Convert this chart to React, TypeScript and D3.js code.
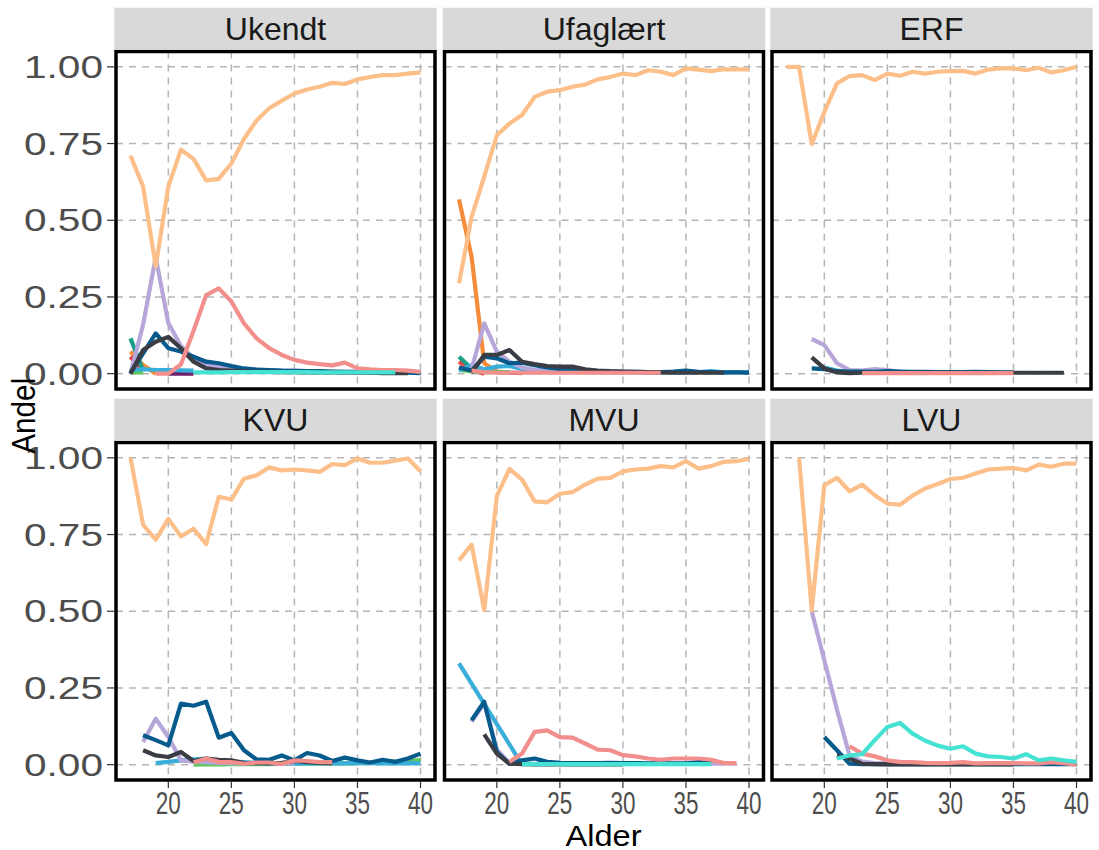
import React from "react";
import * as d3 from "d3";

const AGES = [17,18,19,20,21,22,23,24,25,26,27,28,29,30,31,32,33,34,35,36,37,38,39,40];
const PANELS = ["Ukendt", "Ufaglært", "ERF", "KVU", "MVU", "LVU"];
const Y_TICKS = [0, 0.25, 0.5, 0.75, 1];
const Y_TICK_LABELS = ["0.00", "0.25", "0.50", "0.75", "1.00"];
const X_TICKS = [20, 25, 30, 35, 40];
const n = null;

// --- Ukendt ---
const ukendt_peach = [0.71,0.61,0.35,0.61,0.73,0.70,0.63,0.635,0.685,0.765,0.825,0.865,0.89,0.913,0.926,0.935,0.948,0.944,0.959,0.967,0.973,0.973,0.978,0.982];
const ukendt_lavender = [0.0,0.16,0.38,0.165,0.09,0.05,0.03,0.022,0.018,0.015,0.013,0.011,0.01,0.009,0.008,0.007,0.006,0.006,0.005,0.005,0.004,0.004,0.004,0.003];
const ukendt_pink = [n,n,0.0,0.0,0.03,0.14,0.256,0.278,0.235,0.164,0.115,0.083,0.061,0.045,0.036,0.031,0.027,0.036,0.017,0.014,0.012,0.012,0.01,0.006];
const ukendt_darkblue = [0.003,0.066,0.131,0.083,0.072,0.055,0.039,0.034,0.025,0.017,0.013,0.012,0.01,0.009,0.008,0.008,0.007,0.006,0.006,0.005,0.004,0.004,0.003,0.002];
const ukendt_darkgray = [0.0,0.077,0.104,0.12,0.083,0.039,0.017,0.012,0.01,0.008,0.006,0.006,0.005,0.005,0.004,0.004,0.004,0.003,0.003,0.003,0.002,0.002,0.002,n];
const ukendt_teal = [0.115,0.01,n,n,n,n,n,n,n,n,n,n,n,n,n,n,n,n,n,n,n,n,n,n];
const ukendt_darkorange = [0.072,0.028,0.0,n,n,n,n,n,n,n,n,n,n,n,n,n,n,n,n,n,n,n,n,n];
const ukendt_red = [0.055,0.01,n,n,n,n,n,n,n,n,n,n,n,n,n,n,n,n,n,n,n,n,n,n];
const ukendt_lightblue = [0.012,0.015,0.012,0.012,0.011,0.01,n,n,n,n,n,n,n,n,n,n,n,n,n,n,n,n,n,n];
const ukendt_turquoise = [n,n,n,n,n,0.004,0.004,0.004,0.005,0.005,0.005,0.005,0.005,0.005,0.005,0.004,0.004,0.004,0.004,0.004,0.004,0.004,n,n];
const ukendt_purple = [n,n,n,0.0,0.0,0.0,n,n,n,n,n,n,n,n,n,n,n,n,n,n,n,n,n,n];
const ukendt_green = [0.004,0.004,n,n,n,n,n,n,n,n,n,n,n,n,n,n,n,n,n,n,n,n,n,n];

// --- Ufaglært ---
const ufag_peach = [0.294,0.511,0.642,0.777,0.815,0.843,0.902,0.919,0.924,0.935,0.942,0.959,0.967,0.978,0.973,0.989,0.984,0.973,0.995,0.991,0.986,0.992,0.992,0.992];
const ufag_darkorange = [0.568,0.381,0.034,0.007,0.003,0.002,n,n,n,n,n,n,n,n,n,n,n,n,n,n,n,n,n,n];
const ufag_lavender = [n,0.015,0.164,0.072,0.039,0.02,0.012,0.01,0.008,0.007,0.006,0.005,0.005,0.004,0.004,0.004,n,n,n,n,n,n,n,n];
const ufag_darkgray = [n,0.003,0.061,0.061,0.077,0.039,0.031,0.025,0.023,0.023,0.014,0.01,0.008,0.007,0.006,0.005,0.004,0.003,0.003,0.003,0.003,0.003,n,n];
const ufag_darkblue = [0.02,0.01,0.055,0.05,0.034,0.036,0.028,0.02,0.015,0.012,0.01,0.008,0.007,0.006,0.006,0.005,0.005,0.007,0.01,0.006,0.005,0.004,0.004,0.003];
const ufag_teal = [0.055,0.017,0.005,n,n,n,n,n,n,n,n,n,n,n,n,n,n,n,n,n,n,n,n,n];
const ufag_red = [0.039,0.012,0.0,n,n,n,n,n,n,n,n,n,n,n,n,n,n,n,n,n,n,n,n,n];
const ufag_green = [0.012,0.008,0.006,0.005,0.005,n,n,n,n,n,n,n,n,n,n,n,n,n,n,n,n,n,n,n];
const ufag_lightblue = [0.01,0.028,0.014,0.023,0.025,0.015,0.012,0.01,0.008,0.007,0.007,0.006,0.005,0.005,0.005,0.005,0.005,0.004,0.005,0.005,0.008,0.004,0.005,0.005];
const ufag_pink = [n,0.01,0.005,0.003,0.003,0.003,0.003,0.003,0.003,0.003,0.003,0.003,0.003,0.003,0.003,0.003,0.003,n,n,n,n,n,n,n];
const ufag_purple = [n,n,n,n,0.003,0.003,n,n,n,n,n,n,n,n,n,n,n,n,n,n,n,n,n,n];

// --- ERF ---
const erf_peach = [1.0,1.0,0.748,0.853,0.946,0.97,0.973,0.957,0.978,0.971,0.984,0.978,0.984,0.986,0.987,0.978,0.991,0.995,0.995,0.989,0.997,0.982,0.989,1.0];
const erf_lavender = [n,n,0.113,0.093,0.034,0.012,0.01,0.015,0.012,0.006,0.005,0.004,0.004,0.004,0.003,0.003,n,n,n,n,n,n,n,n];
const erf_darkgray = [n,n,0.053,0.017,0.004,0.002,0.003,0.003,0.003,0.003,0.003,0.003,0.003,0.003,0.003,0.003,0.003,0.003,0.003,0.003,0.003,0.003,0.003,n];
const erf_darkblue = [n,n,0.017,0.015,0.008,0.007,0.007,0.006,0.008,0.007,0.006,0.006,0.005,0.005,0.005,0.006,0.005,0.004,0.004,n,n,n,n,n];
const erf_lightblue = [n,n,n,0.02,0.01,0.006,0.005,0.004,n,n,n,n,n,n,n,n,n,n,n,n,n,n,n,n];
const erf_pink = [n,n,n,n,n,n,0.002,0.002,0.002,0.002,0.002,0.002,0.002,0.002,0.002,0.002,0.002,0.002,0.002,n,n,n,n,n];

// --- KVU ---
const kvu_peach = [1.0,0.782,0.733,0.801,0.744,0.769,0.719,0.873,0.864,0.932,0.943,0.969,0.959,0.962,0.959,0.954,0.98,0.976,0.998,0.984,0.984,0.991,0.998,0.956];
const kvu_darkblue = [n,0.096,0.08,0.063,0.199,0.192,0.205,0.088,0.103,0.047,0.017,0.016,0.03,0.014,0.038,0.03,0.012,0.023,0.014,0.007,0.016,0.009,0.02,0.036];
const kvu_lavender = [n,0.074,0.15,0.09,0.014,0.01,0.008,0.006,0.005,0.005,0.006,0.004,0.004,0.004,n,n,n,n,n,n,n,n,n,n];
const kvu_darkgray = [n,0.047,0.03,0.025,0.041,0.012,0.02,0.016,0.014,0.005,0.005,0.004,0.006,0.012,0.008,0.006,0.005,n,n,n,n,n,n,n];
const kvu_lightblue = [n,n,0.005,0.009,0.014,0.017,0.02,0.012,0.01,0.008,0.006,0.005,0.004,0.003,0.004,0.004,0.004,0.004,0.005,0.005,0.004,0.004,0.004,0.005];
const kvu_pink = [n,n,n,n,n,0.007,0.02,0.009,0.008,0.003,0.007,0.007,0.002,0.014,0.012,0.008,0.008,n,n,n,n,n,n,n];
const kvu_green = [n,n,n,n,n,0.0,0.001,0.001,0.002,0.002,0.002,0.002,0.003,0.003,0.003,0.003,0.004,0.004,0.005,0.006,0.008,0.01,0.012,0.015];

// --- MVU ---
const mvu_peach = [0.666,0.717,0.504,0.875,0.964,0.929,0.858,0.855,0.883,0.888,0.913,0.932,0.935,0.956,0.962,0.965,0.973,0.969,0.989,0.965,0.973,0.987,0.989,0.997];
const mvu_lightblue = [0.33,n,n,n,n,0.0,n,n,n,n,n,n,n,n,n,n,n,n,n,n,n,n,n,n];
const mvu_darkblue = [n,0.145,0.205,0.041,0.003,0.014,0.02,0.009,0.006,0.005,0.005,0.005,0.006,0.005,0.005,0.004,0.004,0.004,0.004,0.008,0.008,n,n,n];
const mvu_darkgray = [n,n,0.099,0.036,0.003,0.002,0.001,0.001,0.001,0.001,0.001,0.001,0.001,0.001,n,n,n,n,n,n,n,n,n,n];
const mvu_lavender = [n,0.14,0.2,0.05,0.005,0.003,0.003,0.003,0.003,0.003,0.003,0.003,0.003,0.003,0.003,0.003,0.003,0.003,0.003,0.003,0.003,0.004,0.004,n];
const mvu_pink = [n,n,n,n,0.009,0.036,0.107,0.112,0.09,0.088,0.069,0.049,0.047,0.031,0.027,0.02,0.016,0.02,0.02,0.02,0.016,0.005,0.005,n];
const mvu_turquoise = [n,n,n,n,n,0.002,0.002,0.002,0.002,0.002,0.002,0.002,0.002,0.002,0.002,0.002,0.002,0.002,0.002,0.002,0.002,n,n,n];

// --- LVU ---
const lvu_peach = [n,1.0,0.503,0.911,0.935,0.891,0.913,0.878,0.851,0.847,0.877,0.9,0.915,0.931,0.935,0.949,0.962,0.965,0.967,0.959,0.978,0.971,0.981,0.981];
const lvu_lavender = [n,n,0.5,0.34,0.18,0.03,0.01,0.005,0.004,0.003,0.003,n,n,n,n,n,n,n,n,n,n,n,n,n];
const lvu_darkblue = [n,n,n,0.09,0.047,0.003,0.002,0.002,0.002,0.002,0.002,0.002,0.002,0.002,0.002,0.002,0.002,0.002,0.002,0.002,0.002,0.002,0.002,0.002];
const lvu_darkgray = [n,n,n,n,0.03,0.02,0.003,0.002,0.001,0.001,0.001,0.001,0.001,0.001,0.001,0.001,0.001,0.001,0.001,n,n,n,n,n];
const lvu_turquoise = [n,n,n,n,0.02,0.03,0.034,0.08,0.123,0.136,0.101,0.078,0.062,0.052,0.06,0.036,0.027,0.025,0.02,0.034,0.014,0.02,0.014,0.009];
const lvu_pink = [n,n,n,n,n,0.06,0.036,0.027,0.014,0.009,0.008,0.006,0.005,0.006,0.008,0.004,0.005,0.005,0.005,0.004,0.004,0.008,0.005,0.0];

const COLORS: Record<string, string> = {
  peach: "#FDBF8A",
  lavender: "#B6A6DA",
  pink: "#F28F8D",
  darkblue: "#065A8C",
  darkgray: "#3A3E44",
  darkorange: "#F68B3A",
  teal: "#1B9E87",
  lightblue: "#3AAEDB",
  turquoise: "#45E2D3",
  green: "#5DC95C",
  purple: "#6E1F6B",
  red: "#E8433E",
};
const DRAW_ORDER = ["darkorange","red","teal","green","purple","lightblue","lavender","darkblue","darkgray","peach","pink","turquoise"];

const PANEL_SERIES: Record<string, (number | null)[]>[] = [
  { peach: ukendt_peach, lavender: ukendt_lavender, pink: ukendt_pink, darkblue: ukendt_darkblue, darkgray: ukendt_darkgray, teal: ukendt_teal, darkorange: ukendt_darkorange, red: ukendt_red, lightblue: ukendt_lightblue, turquoise: ukendt_turquoise, purple: ukendt_purple, green: ukendt_green },
  { peach: ufag_peach, darkorange: ufag_darkorange, lavender: ufag_lavender, darkgray: ufag_darkgray, darkblue: ufag_darkblue, teal: ufag_teal, red: ufag_red, green: ufag_green, lightblue: ufag_lightblue, pink: ufag_pink, purple: ufag_purple },
  { peach: erf_peach, lavender: erf_lavender, darkgray: erf_darkgray, darkblue: erf_darkblue, lightblue: erf_lightblue, pink: erf_pink },
  { peach: kvu_peach, darkblue: kvu_darkblue, lavender: kvu_lavender, darkgray: kvu_darkgray, lightblue: kvu_lightblue, pink: kvu_pink, green: kvu_green },
  { peach: mvu_peach, lightblue: mvu_lightblue, darkblue: mvu_darkblue, darkgray: mvu_darkgray, lavender: mvu_lavender, pink: mvu_pink, turquoise: mvu_turquoise },
  { peach: lvu_peach, lavender: lvu_lavender, darkblue: lvu_darkblue, darkgray: lvu_darkgray, turquoise: lvu_turquoise, pink: lvu_pink },
];

const W = 1099;
const H = 850;
const PANEL_W = 319;
const PANEL_H = 337.5;
const COL_X = [116, 444.5, 772];
const ROW_Y = [51.5, 442.5];
const STRIP_H = 42;
const FONT = "'Liberation Sans', Arial, sans-serif";

export default function App() {
  const panels = PANELS.map((name, i) => {
    const col = i % 3;
    const row = Math.floor(i / 3);
    const left = COL_X[col];
    const top = ROW_Y[row];
    const x = d3.scaleLinear().domain([15.85, 41.15]).range([left, left + PANEL_W]);
    const y = d3.scaleLinear().domain([-0.05, 1.05]).range([top + PANEL_H, top]);
    const line = d3
      .line<[number, number]>()
      .x((d) => x(d[0]))
      .y((d) => y(d[1]));
    const series = PANEL_SERIES[i];
    const clipId = `clip-${i}`;
    return (
      <g key={name}>
        <defs>
          <clipPath id={clipId}>
            <rect x={left} y={top} width={PANEL_W} height={PANEL_H} />
          </clipPath>
        </defs>
        <rect x={left} y={top} width={PANEL_W} height={PANEL_H} fill="#ffffff" />
        {Y_TICKS.map((t) => (
          <line key={"gy" + t} x1={left} x2={left + PANEL_W} y1={y(t)} y2={y(t)} stroke="#b5b5b5" strokeWidth={1.5} strokeDasharray="7,6" />
        ))}
        {X_TICKS.map((t) => (
          <line key={"gx" + t} x1={x(t)} x2={x(t)} y1={top} y2={top + PANEL_H} stroke="#b5b5b5" strokeWidth={1.5} strokeDasharray="7,6" />
        ))}
        <g clipPath={`url(#${clipId})`}>
          {DRAW_ORDER.filter((k) => series[k]).map((k) => {
            const pts: [number, number][] = [];
            series[k].forEach((v, j) => {
              if (v !== null) pts.push([AGES[j], v]);
            });
            return (
              <path key={k} d={line(pts) || ""} fill="none" stroke={COLORS[k]} strokeWidth={4.2} strokeLinejoin="round" strokeLinecap="butt" />
            );
          })}
        </g>
        <rect x={left} y={top} width={PANEL_W} height={PANEL_H} fill="none" stroke="#000000" strokeWidth={3.5} />
        <rect x={left - 1.75} y={top - STRIP_H - 1.75} width={PANEL_W + 3.5} height={STRIP_H} fill="#d9d9d9" />
        <text x={left + PANEL_W / 2} y={top - STRIP_H / 2 - 1.75} textAnchor="middle" dominantBaseline="central" fontFamily={FONT} fontSize={32} fill="#1a1a1a">
          {name}
        </text>
        {col === 0 &&
          Y_TICKS.map((t, k) => (
            <g key={"yt" + t}>
              <line x1={left - 9} x2={left - 1.75} y1={y(t)} y2={y(t)} stroke="#333333" strokeWidth={1.2} />
              <text x={103} y={y(t)} textAnchor="end" dominantBaseline="central" fontFamily={FONT} fontSize={32} fill="#4d4d4d" textLength={79} lengthAdjust="spacingAndGlyphs">
                {Y_TICK_LABELS[k]}
              </text>
            </g>
          ))}
        {row === 1 &&
          X_TICKS.map((t) => (
            <g key={"xt" + t}>
              <line x1={x(t)} x2={x(t)} y1={top + PANEL_H + 1.75} y2={top + PANEL_H + 8} stroke="#333333" strokeWidth={1.2} />
              <text x={x(t)} y={top + PANEL_H + 34} textAnchor="middle" fontFamily={FONT} fontSize={31} fill="#4d4d4d" textLength={25} lengthAdjust="spacingAndGlyphs">
                {String(t)}
              </text>
            </g>
          ))}
      </g>
    );
  });

  return (
    <svg width={W} height={H} style={{ position: "absolute", left: 0, top: 0, background: "#ffffff" }}>
      <rect x={0} y={0} width={W} height={H} fill="#ffffff" />
      {panels}
      <text x={(COL_X[0] + COL_X[2] + PANEL_W) / 2} y={846} textAnchor="middle" fontFamily={FONT} fontSize={30} fill="#000000" textLength={76} lengthAdjust="spacingAndGlyphs">
        Alder
      </text>
      <text transform={`translate(35, ${(ROW_Y[0] + ROW_Y[1] + PANEL_H) / 2}) rotate(-90)`} textAnchor="middle" fontFamily={FONT} fontSize={33} fill="#000000" textLength={76} lengthAdjust="spacingAndGlyphs">
        Andel
      </text>
    </svg>
  );
}
